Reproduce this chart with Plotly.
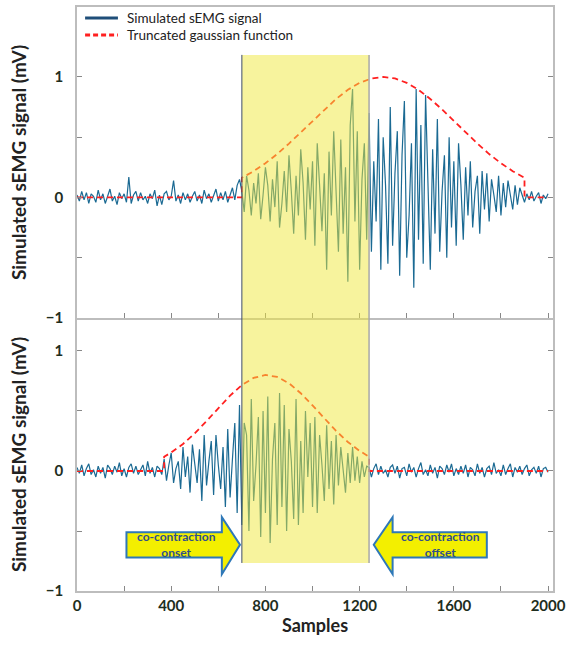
import plotly.graph_objects as go
from plotly.subplots import make_subplots

# ---------------- data ----------------
samples = list(range(0, 2001, 10))

semg_top = [
    0.02, -0.03, 0.05, -0.02, 0.04, -0.05, 0.03, 0.01, -0.04, 0.06,
    -0.02, 0.03, -0.05, 0.02, 0.07, -0.03, 0.01, -0.06, 0.04, -0.01,
    0.03, -0.04, 0.17, -0.05, 0.02, 0.05, -0.03, 0.04, -0.02, 0.01,
    -0.05, 0.03, -0.01, 0.06, -0.07, 0.02, -0.06, 0.03, 0.05, -0.02,
    0.01, 0.14, -0.03, 0.02, -0.05, 0.04, -0.02, 0.03, -0.04, 0.01,
    0.05, -0.03, 0.02, -0.05, 0.06, -0.01, 0.03, -0.04, 0.02, 0.07,
    -0.03, 0.04, -0.02, 0.05, -0.04, 0.03, 0.08, -0.02, 0.10, 0.15,
    0.05, -0.12, 0.18, 0.06, -0.15, 0.12, -0.05, 0.20, -0.18, 0.02,
    0.25, 0.10, -0.20, 0.15, -0.08, 0.30, -0.25, -0.05, 0.22, -0.12,
    0.35, 0.05, -0.30, 0.18, -0.15, 0.40, 0.12, -0.35, 0.25, -0.10,
    0.30, -0.40, 0.45, 0.10, -0.28, 0.20, -0.60, 0.38, -0.15, 0.55,
    0.05, -0.45, 0.48, -0.30, 0.25, -0.70, 0.60, 0.90, -0.20, 0.55,
    -0.60, 0.15, 0.45, -0.35,
    0.70, -0.45, 0.30, -0.20, 0.65, -0.60, 0.50, 0.10, -0.55, 0.75,
    -0.40, 0.20, 0.55, -0.65, 0.35, 0.80, -0.50, -0.15, 0.45, -0.75,
    0.90, -0.35, 0.60, -0.55, 0.85, 0.10, -0.60, 0.40, -0.30, 0.65,
    -0.45, 0.05, 0.35, -0.50, 0.50, -0.25, 0.30, -0.40, 0.45, 0.10,
    -0.35, 0.25, -0.15, 0.30, -0.25, 0.05, 0.18, -0.30, 0.22, -0.10,
    0.20, -0.20, 0.15, 0.02, -0.12, 0.18, -0.15, 0.12, -0.08, 0.14,
    0.03, -0.10, 0.10, -0.06, 0.08,
    0.02, -0.04, 0.03, -0.02, 0.05, -0.03, 0.01, 0.04, -0.05, 0.02, -0.01, 0.03,
]

semg_bottom = [
    0.03, -0.02, 0.05, -0.04, 0.02, 0.06, -0.03, 0.01, -0.05, 0.04,
    -0.02, 0.03, -0.06, 0.05, 0.02, -0.03, 0.04, -0.01, 0.07, -0.04,
    0.02, -0.05, 0.03, 0.06, -0.02, 0.04, -0.03, 0.01, 0.05, -0.04,
    0.08, -0.02, 0.03, -0.05, 0.04, 0.02, -0.03,
    0.10, -0.08, 0.05, 0.15, -0.10, 0.02, 0.08, -0.15, 0.20,
    -0.05, 0.12, -0.18, 0.22, 0.05, -0.10, 0.18, -0.25, 0.30, -0.12, 0.08,
    0.25, -0.20, 0.30, 0.05, -0.15, 0.20, -0.30, 0.35, -0.22, 0.10,
    0.40, -0.35, 0.55,
    -0.45, 0.40, 0.30, -0.50, 0.60, -0.25, 0.05, 0.45, -0.55, 0.50,
    -0.35, 0.62, -0.60, 0.10, 0.40, -0.45, 0.65, -0.30, 0.55, -0.50,
    0.35, 0.08, -0.40, 0.60, -0.45, 0.25, -0.35, 0.50, -0.05, 0.40,
    -0.30, 0.45, -0.35, 0.30, 0.05, -0.25, 0.38, -0.15, 0.25, -0.28,
    0.30, -0.12, 0.20, 0.02, -0.18, 0.15, -0.10, 0.20, -0.08, 0.12,
    -0.10, 0.08, -0.05, 0.04,
    0.03, -0.05, 0.02, 0.06, -0.03, 0.04, -0.02, 0.01, -0.05, 0.03,
    0.05, -0.02, 0.04, -0.06, 0.02, 0.03, -0.04, 0.06, -0.01, 0.03,
    -0.05, 0.02, 0.07, -0.03, 0.01, -0.04, 0.05, -0.02, 0.03, -0.06,
    0.04, 0.02, -0.03, 0.05, -0.01, 0.06, -0.04, 0.02, -0.03, 0.04,
    -0.02, 0.05, -0.05, 0.03, 0.01, -0.04, 0.06, -0.02, 0.03, -0.05,
    0.02, 0.04, -0.03, 0.07, -0.02, 0.01, -0.04, 0.05, -0.03, 0.02,
    0.06, -0.05, 0.03, -0.01, 0.04, -0.03, 0.02, 0.05, -0.04, 0.01,
    0.03, -0.02, 0.04, -0.05, 0.02, 0.03, -0.01,
]

gauss_top_x = [0, 700, 700, 750, 800, 850, 900, 950, 1000, 1050, 1100, 1150, 1200,
               1250, 1300, 1350, 1400, 1450, 1500, 1550, 1600, 1650, 1700, 1750,
               1800, 1850, 1900, 1900, 2000]
gauss_top_y = [0, 0, 0.163, 0.218, 0.284, 0.360, 0.447, 0.539, 0.635, 0.730, 0.817,
               0.893, 0.951, 0.987, 1.0, 0.987, 0.951, 0.893, 0.817, 0.730, 0.635,
               0.539, 0.447, 0.360, 0.284, 0.218, 0.163, 0, 0]

gauss_bot_x = [0, 370, 370, 400, 450, 500, 550, 600, 650, 700, 750, 800, 850, 900,
               950, 1000, 1050, 1100, 1150, 1200, 1240, 1240, 2000]
gauss_bot_y = [0, 0, 0.119, 0.154, 0.225, 0.314, 0.416, 0.524, 0.628, 0.716, 0.776,
               0.800, 0.784, 0.731, 0.648, 0.546, 0.438, 0.334, 0.242, 0.167, 0.119, 0, 0]

onset = 700
offset = 1240

legend_labels = ["Simulated sEMG signal", "Truncated gaussian function"]

x_tickvals = [0, 200, 400, 600, 800, 1000, 1200, 1400, 1600, 1800, 2000]
x_ticktext = ["0", "", "400", "", "800", "", "1200", "", "1600", "", "2000"]
y_tickvals = [-1, -0.5, 0, 0.5, 1]
y_ticktext = ["\u22121", "", "0", "", "1"]

# ---------------- styles ----------------
FONT = "Lato"
SIG_COLOR = "#1b6a93"
LEG_BLUE = "#1f4e79"
RED = "#ff2020"
AX_COLOR = "#bdbdbd"
TICK_FONT_COLOR = "#1e2e1e"
TITLE_COLOR = "#222222"

fig = make_subplots(rows=2, cols=1, shared_xaxes=True, vertical_spacing=0,
                    row_heights=[0.5325, 0.4675])

for r, (sig, gx, gy) in enumerate([(semg_top, gauss_top_x, gauss_top_y),
                                   (semg_bottom, gauss_bot_x, gauss_bot_y)], start=1):
    fig.add_trace(go.Scatter(x=samples, y=sig, mode="lines", showlegend=False,
                             name=legend_labels[0],
                             line=dict(color=SIG_COLOR, width=1.2)), row=r, col=1)
    fig.add_trace(go.Scatter(x=gx, y=gy, mode="lines", showlegend=False,
                             name=legend_labels[1],
                             line=dict(color=RED, width=1.8, dash="6px,4px")), row=r, col=1)

# yellow co-contraction region (above traces, semi transparent)
fig.add_shape(type="rect", xref="x", yref="paper", x0=onset, x1=offset, y0=0.048, y1=0.918,
              fillcolor="rgba(240,232,60,0.5)", line=dict(width=0), layer="above")
fig.add_shape(type="line", xref="x", yref="paper", x0=onset, x1=onset, y0=0.048, y1=0.918,
              line=dict(color="#3d4d6d", width=1), layer="above")
fig.add_shape(type="line", xref="x", yref="paper", x0=offset, x1=offset, y0=0.048, y1=0.918,
              line=dict(color="#a8a8a8", width=1.5), layer="above")

# arrows (bottom panel data coordinates)
bt, bb, ht, hb, ty = -0.51, -0.72, -0.385, -0.86, -0.615
lt, lh, ll = onset - 8, onset - 85, onset - 490
left_path = (f"M {ll},{bt} L {lh},{bt} L {lh},{ht} L {lt},{ty} L {lh},{hb} "
             f"L {lh},{bb} L {ll},{bb} Z")
rt, rh, rl = offset + 20, offset + 100, offset + 500
right_path = (f"M {rl},{bt} L {rh},{bt} L {rh},{ht} L {rt},{ty} L {rh},{hb} "
              f"L {rh},{bb} L {rl},{bb} Z")
for p in (left_path, right_path):
    fig.add_shape(type="path", path=p, xref="x2", yref="y2",
                  fillcolor="#f3ef00", line=dict(color="#2e78b8", width=2), layer="above")

fig.add_annotation(x=(ll + lh) / 2 + 10, y=ty, xref="x2", yref="y2",
                   text="co-contraction<br>onset", showarrow=False,
                   font=dict(family=FONT, size=12, color="#2f4f8a", weight="bold"))
fig.add_annotation(x=(rl + rh) / 2 + 5, y=ty, xref="x2", yref="y2",
                   text="co-contraction<br>offset", showarrow=False,
                   font=dict(family=FONT, size=12, color="#2f4f8a", weight="bold"))

# legend (drawn in paper coordinates)
leg_y = [0.981, 0.952]
fig.add_shape(type="line", xref="paper", yref="paper", x0=0.017, x1=0.086,
              y0=leg_y[0], y1=leg_y[0], line=dict(color=LEG_BLUE, width=3))
fig.add_shape(type="line", xref="paper", yref="paper", x0=0.017, x1=0.086,
              y0=leg_y[1], y1=leg_y[1], line=dict(color=RED, width=3, dash="5px,3px"))
for lab, yy in zip(legend_labels, leg_y):
    fig.add_annotation(x=0.100, y=yy, xref="paper", yref="paper", text=lab,
                       showarrow=False, xanchor="left", yanchor="middle",
                       font=dict(family=FONT, size=13.5, color=TITLE_COLOR))

fig.update_xaxes(range=[0, 2021], tickvals=x_tickvals, ticktext=x_ticktext,
                 ticks="inside", ticklen=5, tickcolor="#888888", showline=True,
                 linecolor=AX_COLOR, linewidth=1.5, showgrid=False,
                 zeroline=False, automargin=False)
fig.update_xaxes(showticklabels=False, mirror=True, row=1, col=1)
fig.update_xaxes(showticklabels=True, mirror=False, row=2, col=1,
                 ticklabeloverflow="allow",
                 tickfont=dict(family=FONT, size=15, color=TICK_FONT_COLOR, weight="bold"),
                 title=dict(text="Samples", standoff=6,
                            font=dict(family=FONT, size=18, color=TITLE_COLOR, weight="bold")))

fig.update_yaxes(tickvals=y_tickvals, ticktext=y_ticktext, ticks="inside", ticklen=5,
                 tickcolor="#888888", showline=True, linecolor=AX_COLOR, linewidth=1.5,
                 mirror="ticks", showgrid=False, zeroline=False, automargin=False,
                 tickfont=dict(family=FONT, size=15, color=TICK_FONT_COLOR, weight="bold"),
                 ticklabelstandoff=9,
                 title=dict(text="Simulated sEMG signal (mV)", standoff=14,
                            font=dict(family=FONT, size=19, color=TITLE_COLOR, weight="bold")))
fig.update_yaxes(range=[-1, 1.58], row=1, col=1)
fig.update_yaxes(range=[-1, 1.275], row=2, col=1)

fig.update_layout(
    width=571, height=646,
    margin=dict(l=77, r=18, t=7, b=55, autoexpand=False),
    plot_bgcolor="white", paper_bgcolor="white",
    font=dict(family=FONT),
    showlegend=False,
)

fig.write_html("out.html", config={"displayModeBar": False},
               post_script="document.body.style.margin='0';document.body.style.overflow='hidden';")
